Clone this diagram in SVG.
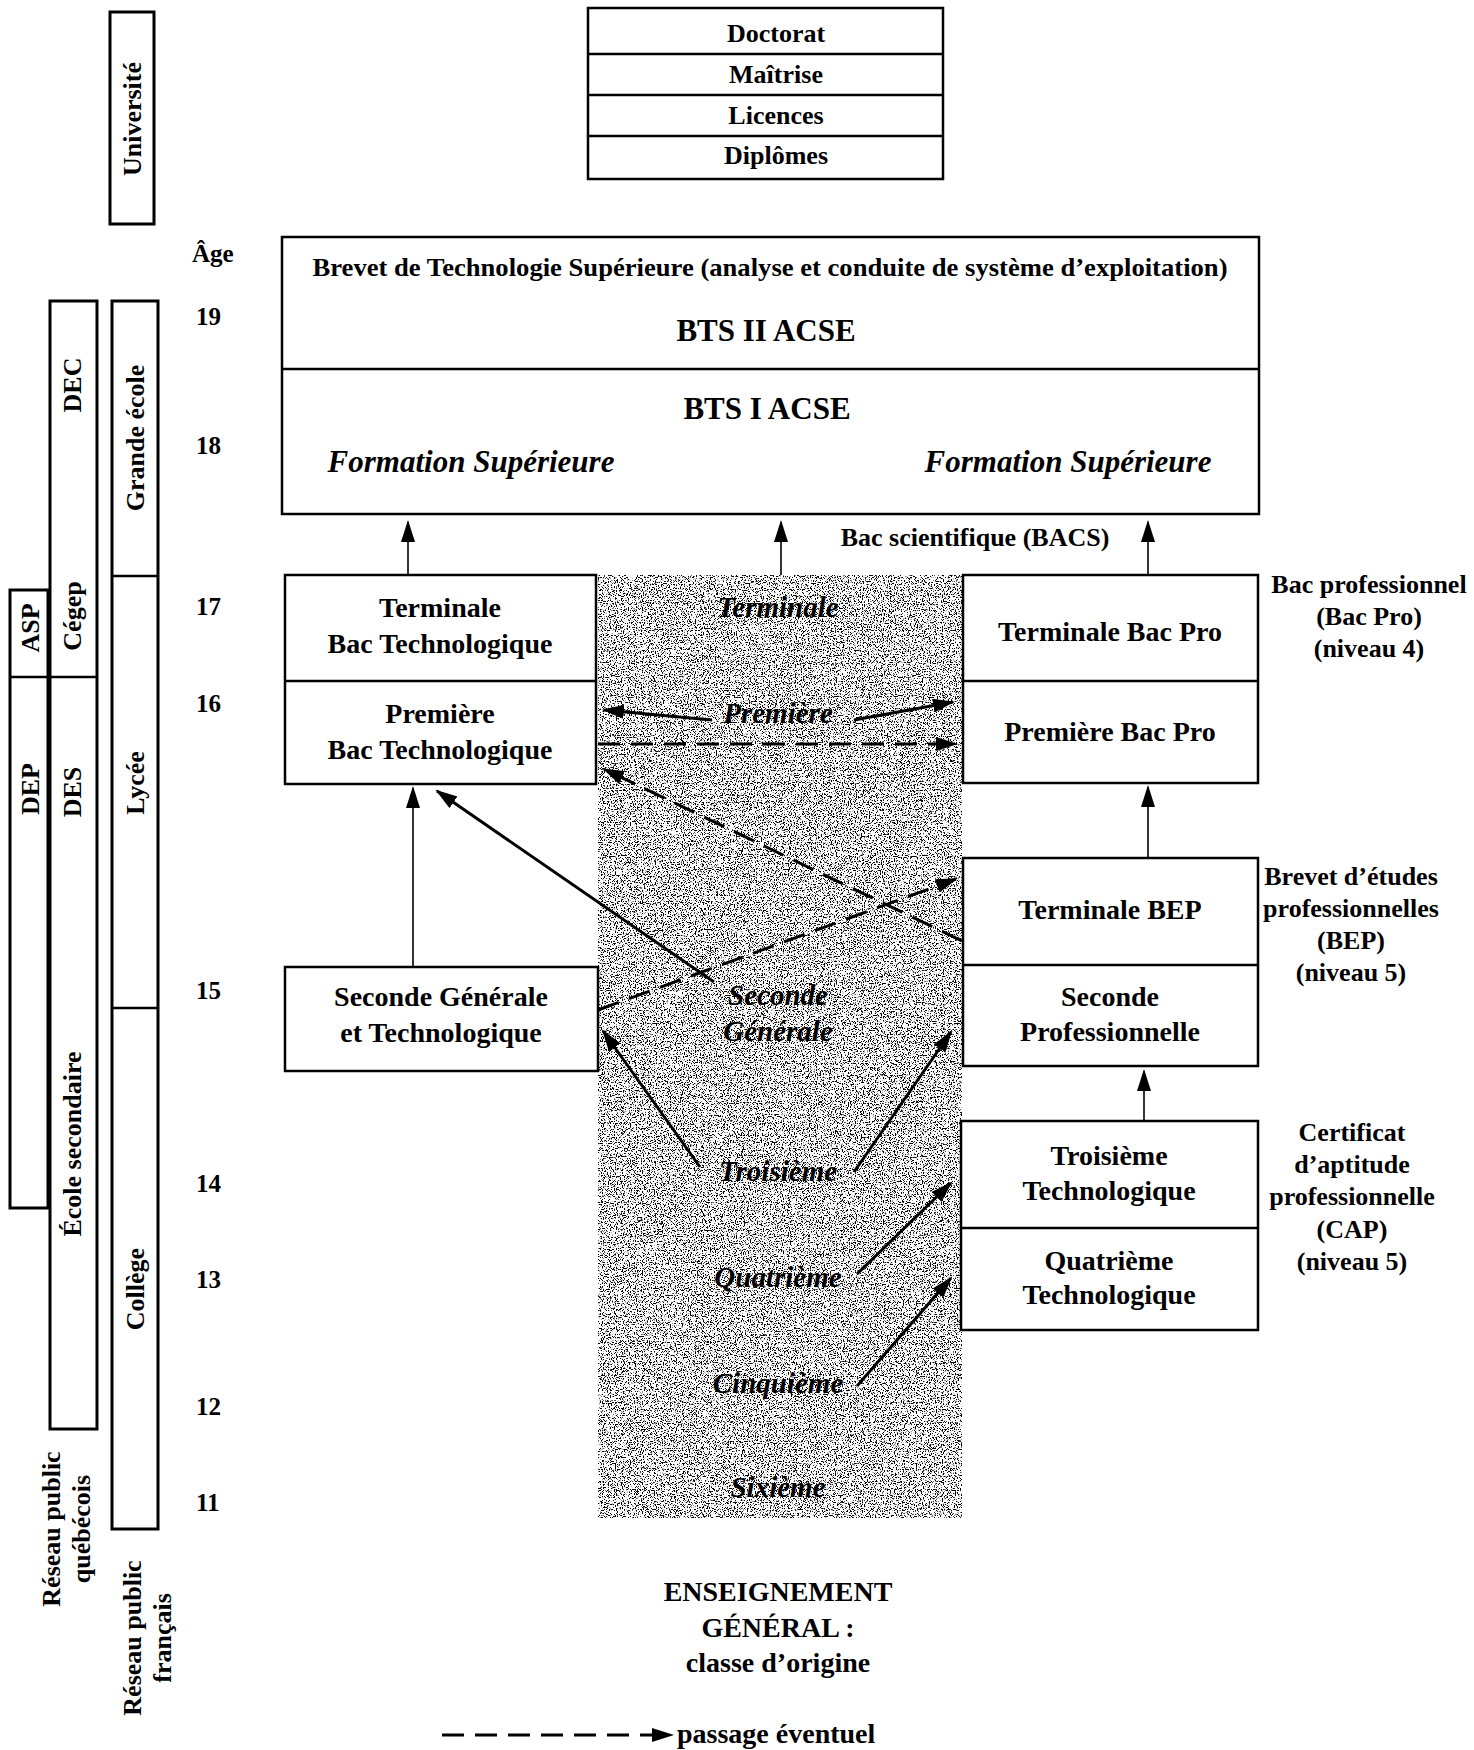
<svg xmlns="http://www.w3.org/2000/svg" width="1474" height="1750" viewBox="0 0 1474 1750">
<defs>
<style>
text { font-family: "Liberation Serif", "Times New Roman", serif; font-weight: bold; fill: #000; }
.c { text-anchor: middle; }
.it { font-style: italic; }
.box { fill: #fff; stroke: #000; stroke-width: 2.5; }
.col { fill: #fff; stroke: #000; stroke-width: 3; }
.dv { stroke: #000; stroke-width: 2.5; }
.thin { stroke: #000; stroke-width: 1.6; fill: none; }
.thick { stroke: #000; stroke-width: 3; fill: none; }
.dash { stroke: #000; stroke-width: 3; fill: none; stroke-dasharray: 22 11; }
.f24 { font-size: 24px; }
.f25 { font-size: 25px; }
.f26 { font-size: 26px; }
.f28 { font-size: 28px; }
.f29 { font-size: 29px; }
.f31 { font-size: 31px; }
</style>
<marker id="ah" markerUnits="userSpaceOnUse" markerWidth="24" markerHeight="16" refX="20" refY="7" orient="auto">
<path d="M0,0 L22,7 L0,14 Z" fill="#000"/>
</marker>
<filter id="grain" filterUnits="userSpaceOnUse" x="598" y="575" width="364" height="943" color-interpolation-filters="sRGB">
<feTurbulence type="fractalNoise" baseFrequency="0.85" numOctaves="2" seed="5"/>
<feColorMatrix type="matrix" values="0 0 0 0 0  0 0 0 0 0  0 0 0 0 0  -12 0 0 0 5.5"/>
</filter>
</defs>
<rect width="1474" height="1750" fill="#fff"/>

<!-- shaded general-education band -->
<g id="enseignement-general">
<rect x="598" y="575" width="364" height="943" fill="#fff"/>
<rect x="598" y="575" width="364" height="943" fill="#000" filter="url(#grain)"/>
<text class="c it f29" x="778" y="617">Terminale</text>
<text class="c it f29" x="778" y="723">Première</text>
<text class="c it f29" x="778" y="1005">Seconde</text>
<text class="c it f29" x="778" y="1041">Générale</text>
<text class="c it f29" x="778" y="1181">Troisième</text>
<text class="c it f29" x="778" y="1287">Quatrième</text>
<text class="c it f29" x="778" y="1393">Cinquième</text>
<text class="c it f29" x="778" y="1497">Sixième</text>
</g>

<!-- left columns -->
<g id="universite">
<rect class="col" x="110" y="12" width="44" height="212"/>
<text class="c f26" transform="translate(141,119) rotate(-90)">Université</text>
</g>
<g id="reseau-quebecois">
<rect class="col" x="50" y="301" width="47" height="1128"/>
<line class="dv" x1="50" y1="677" x2="97" y2="677"/>
<text class="c f26" transform="translate(81,385) rotate(-90)">DEC</text>
<text class="c f26" transform="translate(81,616) rotate(-90)">Cégep</text>
<text class="c f26" transform="translate(81,792) rotate(-90)">DES</text>
<text class="c f26" transform="translate(81,1144) rotate(-90)">École secondaire</text>
<rect class="col" x="10" y="590" width="38" height="618"/>
<line class="dv" x1="10" y1="677" x2="48" y2="677"/>
<text class="c f26" transform="translate(39,628) rotate(-90)">ASP</text>
<text class="c f26" transform="translate(39,789) rotate(-90)">DEP</text>
<text class="c f26" transform="translate(60,1529) rotate(-90)">Réseau public</text>
<text class="c f26" transform="translate(90,1529) rotate(-90)">québécois</text>
</g>
<g id="reseau-francais">
<rect class="col" x="112" y="301" width="46" height="1228"/>
<line class="dv" x1="112" y1="576" x2="158" y2="576"/>
<line class="dv" x1="112" y1="1008" x2="158" y2="1008"/>
<text class="c f26" transform="translate(144,438) rotate(-90)">Grande école</text>
<text class="c f26" transform="translate(144,783) rotate(-90)">Lycée</text>
<text class="c f26" transform="translate(144,1289) rotate(-90)">Collège</text>
<text class="c f26" transform="translate(141,1638) rotate(-90)">Réseau public</text>
<text class="c f26" transform="translate(171,1638) rotate(-90)">français</text>
</g>

<!-- ages -->
<g id="ages">
<text class="f25" x="192" y="262">Âge</text>
<text class="f25" x="196" y="325">19</text>
<text class="f25" x="196" y="454">18</text>
<text class="f25" x="196" y="615">17</text>
<text class="f25" x="196" y="712">16</text>
<text class="f25" x="196" y="999">15</text>
<text class="f25" x="196" y="1192">14</text>
<text class="f25" x="196" y="1288">13</text>
<text class="f25" x="196" y="1415">12</text>
<text class="f25" x="196" y="1511">11</text>
</g>

<!-- university degrees -->
<g id="diplomes-universitaires">
<rect class="box" x="588" y="8" width="355" height="171"/>
<line class="dv" x1="588" y1="54" x2="943" y2="54"/>
<line class="dv" x1="588" y1="95" x2="943" y2="95"/>
<line class="dv" x1="588" y1="136" x2="943" y2="136"/>
<text class="c f26" x="776" y="42">Doctorat</text>
<text class="c f26" x="776" y="83">Maîtrise</text>
<text class="c f26" x="776" y="124">Licences</text>
<text class="c f26" x="776" y="164">Diplômes</text>
</g>

<!-- BTS -->
<g id="bts">
<rect class="box" x="282" y="237" width="977" height="277"/>
<line class="dv" x1="282" y1="369" x2="1259" y2="369"/>
<text class="c f25" x="770" y="276" textLength="915" lengthAdjust="spacingAndGlyphs">Brevet de Technologie Supérieure (analyse et conduite de système d’exploitation)</text>
<text class="c f31" x="766" y="341">BTS II ACSE</text>
<text class="c f31" x="767" y="419">BTS I ACSE</text>
<text class="c it f31" x="471" y="472">Formation Supérieure</text>
<text class="c it f31" x="1068" y="472">Formation Supérieure</text>
</g>
<g id="bacs-label">
<text class="c f26" x="975" y="546">Bac scientifique (BACS)</text>
</g>

<!-- left boxes -->
<g id="bac-technologique">
<rect class="box" x="285" y="575" width="311" height="209"/>
<line class="dv" x1="285" y1="681" x2="596" y2="681"/>
<text class="c f28" x="440" y="617">Terminale</text>
<text class="c f28" x="440" y="653">Bac Technologique</text>
<text class="c f28" x="440" y="723">Première</text>
<text class="c f28" x="440" y="759">Bac Technologique</text>
</g>
<g id="seconde-generale">
<rect class="box" x="285" y="967" width="313" height="104"/>
<text class="c f28" x="441" y="1006">Seconde Générale</text>
<text class="c f28" x="441" y="1042">et Technologique</text>
</g>

<!-- right boxes -->
<g id="bac-pro">
<rect class="box" x="963" y="575" width="295" height="208"/>
<line class="dv" x1="963" y1="681" x2="1258" y2="681"/>
<text class="c f28" x="1110" y="641">Terminale Bac Pro</text>
<text class="c f28" x="1110" y="741">Première Bac Pro</text>
</g>
<g id="bep">
<rect class="box" x="963" y="858" width="295" height="208"/>
<line class="dv" x1="963" y1="965" x2="1258" y2="965"/>
<text class="c f28" x="1110" y="919">Terminale BEP</text>
<text class="c f28" x="1110" y="1006">Seconde</text>
<text class="c f28" x="1110" y="1041">Professionnelle</text>
</g>
<g id="cap">
<rect class="box" x="961" y="1121" width="297" height="209"/>
<line class="dv" x1="961" y1="1228" x2="1258" y2="1228"/>
<text class="c f28" x="1109" y="1165">Troisième</text>
<text class="c f28" x="1109" y="1200">Technologique</text>
<text class="c f28" x="1109" y="1270">Quatrième</text>
<text class="c f28" x="1109" y="1304">Technologique</text>
</g>

<!-- right annotations -->
<g id="label-bac-pro">
<text class="c f26" x="1369" y="593">Bac professionnel</text>
<text class="c f26" x="1369" y="625">(Bac Pro)</text>
<text class="c f26" x="1369" y="657">(niveau 4)</text>
</g>
<g id="label-bep">
<text class="c f26" x="1351" y="885">Brevet d’études</text>
<text class="c f26" x="1351" y="917">professionnelles</text>
<text class="c f26" x="1351" y="949">(BEP)</text>
<text class="c f26" x="1351" y="981">(niveau 5)</text>
</g>
<g id="label-cap">
<text class="c f26" x="1352" y="1141">Certificat</text>
<text class="c f26" x="1352" y="1173">d’aptitude</text>
<text class="c f26" x="1352" y="1205">professionnelle</text>
<text class="c f26" x="1352" y="1238">(CAP)</text>
<text class="c f26" x="1352" y="1270">(niveau 5)</text>
</g>

<!-- bottom caption -->
<g id="caption">
<text class="c f28" x="778" y="1601">ENSEIGNEMENT</text>
<text class="c f28" x="778" y="1637">GÉNÉRAL :</text>
<text class="c f28" x="778" y="1672">classe d’origine</text>
</g>

<!-- connectors -->
<g id="connectors">
<line class="thin" x1="408" y1="575" x2="408" y2="522" marker-end="url(#ah)"/>
<line class="thin" x1="781" y1="575" x2="781" y2="522" marker-end="url(#ah)"/>
<line class="thin" x1="1148" y1="575" x2="1148" y2="522" marker-end="url(#ah)"/>
<line class="thin" x1="1148" y1="858" x2="1148" y2="787" marker-end="url(#ah)"/>
<line class="thin" x1="1144" y1="1121" x2="1144" y2="1071" marker-end="url(#ah)"/>
<line class="thin" x1="413" y1="967" x2="413" y2="788" marker-end="url(#ah)"/>
<line class="thick" x1="714" y1="982" x2="437" y2="791" marker-end="url(#ah)"/>
<line class="dash" x1="598" y1="1010" x2="956" y2="879" marker-end="url(#ah)"/>
<line class="dash" x1="962" y1="941" x2="604" y2="769" marker-end="url(#ah)"/>
<line class="dash" x1="598" y1="744" x2="956" y2="744" marker-end="url(#ah)"/>
<line class="thick" x1="712" y1="720" x2="604" y2="710" marker-end="url(#ah)"/>
<line class="thick" x1="854" y1="720" x2="953" y2="702" marker-end="url(#ah)"/>
<line class="thick" x1="700" y1="1167" x2="603" y2="1031" marker-end="url(#ah)"/>
<line class="thick" x1="854" y1="1172" x2="951" y2="1032" marker-end="url(#ah)"/>
<line class="thick" x1="857" y1="1274" x2="951" y2="1183" marker-end="url(#ah)"/>
<line class="thick" x1="857" y1="1386" x2="951" y2="1278" marker-end="url(#ah)"/>
</g>

<!-- legend -->
<g id="legend">
<line class="dash" x1="442" y1="1735" x2="672" y2="1735" stroke-dasharray="24 12" marker-end="url(#ah)"/>
<text class="f28" x="677" y="1743">passage éventuel</text>
</g>
</svg>
